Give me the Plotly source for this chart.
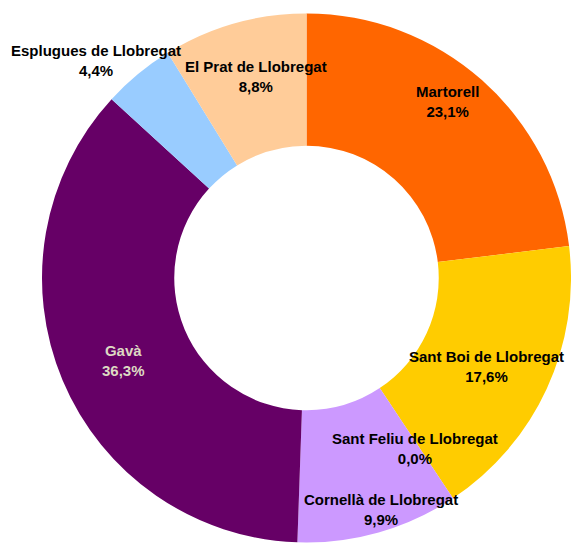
import plotly.graph_objects as go

# Data
municipis = ["Martorell", "Sant Boi de Llobregat", "Sant Feliu de Llobregat",
             "Cornellà de Llobregat", "Gavà", "Esplugues de Llobregat",
             "El Prat de Llobregat"]
percentatges = [23.1, 17.6, 0.0, 9.9, 36.3, 4.4, 8.8]

# Styles
colors = ["#FF6600", "#FFCC00", "#993366", "#CC99FF", "#660066", "#99CCFF", "#FFCC99"]
label_colors = ["#000000", "#000000", "#000000", "#000000", "#DDD9C3", "#000000", "#000000"]
# label centres in pixels (x, y from top) within the 571x544 canvas
label_px = [(447, 101), (486, 366), (415, 448), (381, 509), (123, 360), (96, 61), (256, 76)]

W, H = 571, 544
TOP = 12

fig = go.Figure()
fig.add_trace(go.Pie(
    labels=municipis,
    values=percentatges,
    marker=dict(colors=colors, line=dict(width=0)),
    hole=0.5,
    sort=False,
    direction="clockwise",
    rotation=0,
    textinfo="none",
    hoverinfo="label+percent",
    showlegend=False,
    domain=dict(x=[42 / W, 1], y=[0, 1]),
))

for name, val, (px, py), c in zip(municipis, percentatges, label_px, label_colors):
    txt = f"{name}<br>{val:.1f}%".replace(".", ",")
    fig.add_annotation(
        x=px / W, y=1 - (py - TOP) / (H - TOP), xref="paper", yref="paper",
        text=txt, showarrow=False, xanchor="center", yanchor="middle",
        font=dict(family="Liberation Sans", size=15, color=c, weight="bold"),
        align="center",
    )

fig.update_layout(
    width=W, height=H,
    margin=dict(l=0, r=0, t=TOP, b=0),
    paper_bgcolor="white",
    plot_bgcolor="white",
)

fig.write_html(
    "out.html",
    config={"displayModeBar": False},
    post_script="document.body.style.margin='0px';document.body.style.overflow='hidden';",
)
